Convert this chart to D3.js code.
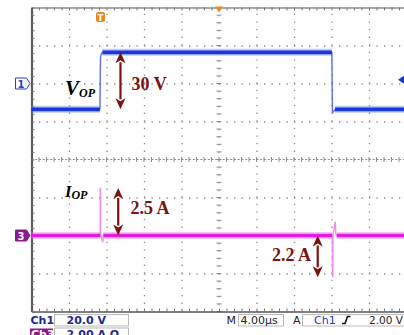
<!DOCTYPE html>
<html>
<head>
<meta charset="utf-8">
<script src="https://cdn.jsdelivr.net/npm/d3@7/dist/d3.min.js"></script>
<style>
  html, body { margin: 0; padding: 0; background: #fff; }
  svg { display: block; }
</style>
</head>
<body>
<svg id="scope" width="404" height="335"></svg>
<script>
// Channel 1: output voltage V_OP (time in µs, volts)
const ch1TimeUs = [0, 7.30, 7.36, 7.44, 7.56, 32.04, 32.10, 32.20, 32.38, 40];
const ch1Volts  = [-13.6, -13.6, 13.5, 15.6, 16.4, 16.4, -15.4, -15.0, -13.6, -13.6];

// Channel 3: output current I_OP (time in µs, amperes)
const ch3TimeUs = [0, 7.33, 7.35, 7.38, 7.60, 7.66, 32.08, 32.12, 32.16, 32.40, 32.46, 32.56, 40];
const ch3Amps   = [0, 0, 2.5, 0, -0.35, 0, 0, -2.2, 0, 0.72, 0.05, 0, 0];

// Measured swings written on the arrows
const vopSwingV = 30;
const iopRiseA = 2.5;
const iopFallA = 2.2;

// Settings read-out
const ch1Setting = ["Ch1", "20.0 V"];
const ch3Setting = ["Ch3", "2.00 A \u03A9"];
const timebase = ["M", "4.00\u00B5s"];
const triggerInfo = ["A", "Ch1", "2.00 V"];
const triggerLevelV = 2.0;

const svg = d3.select("#scope");
const L = 31.5, R = 406.5, T = 7.5, B = 311.5;

// 10 horizontal divisions of 4 µs, 8 vertical divisions
const x = d3.scaleLinear().domain([0, 40]).range([L, R]);
const yDiv = d3.scaleLinear().domain([-4, 4]).range([B, T]);
// Ch1 at 20 V/div, ground 2 div above centre; Ch3 at 2 A/div, ground 2 div below
const y1 = d3.scaleLinear().domain([-120, 40]).range([B, T]);
const y3 = d3.scaleLinear().domain([-4, 12]).range([B, T]);

const gridColor = "#8c8c8c";

// Dotted graticule
const grid = svg.append("g");
grid.append("g")
  .attr("transform", `translate(0,${B})`)
  .call(d3.axisBottom(x).tickValues(d3.range(4, 40, 4).filter(v => v !== 20))
        .tickSizeInner(-(B - T)).tickSizeOuter(0).tickFormat(""))
  .call(g => g.select(".domain").remove())
  .call(g => g.selectAll("line").attr("stroke", gridColor).attr("stroke-width", 1.3)
        .attr("stroke-dasharray", "1.3 6.3"));
grid.append("g")
  .attr("transform", `translate(${L},0)`)
  .call(d3.axisLeft(yDiv).tickValues([-3, -2, -1, 1, 2, 3])
        .tickSizeInner(-(R - L)).tickSizeOuter(0).tickFormat(""))
  .call(g => g.select(".domain").remove())
  .call(g => g.selectAll("line").attr("stroke", gridColor).attr("stroke-width", 1.3)
        .attr("stroke-dasharray", "1.3 6.2"));

// Centre crosshair with minor ticks
const minorX = d3.range(0, 40.01, 0.8);
const minorY = d3.range(-4, 4.01, 0.2);
grid.append("line").attr("x1", L).attr("x2", R).attr("y1", yDiv(0)).attr("y2", yDiv(0))
  .attr("stroke", gridColor).attr("stroke-width", 1).attr("stroke-dasharray", "2 1.75");
grid.append("line").attr("x1", x(20)).attr("x2", x(20)).attr("y1", T).attr("y2", B)
  .attr("stroke", gridColor).attr("stroke-width", 1).attr("stroke-dasharray", "1.3 6.3");
grid.append("g").selectAll("line").data(minorX).join("line")
  .attr("x1", d => x(d)).attr("x2", d => x(d))
  .attr("y1", yDiv(0) - 2.5).attr("y2", yDiv(0) + 2.5)
  .attr("stroke", gridColor).attr("stroke-width", 1);
grid.append("g").selectAll("line").data(minorY).join("line")
  .attr("x1", x(20) - 2.5).attr("x2", x(20) + 2.5)
  .attr("y1", d => yDiv(d)).attr("y2", d => yDiv(d))
  .attr("stroke", gridColor).attr("stroke-width", 1);

// Frame with edge ticks
const frame = svg.append("g");
frame.append("g").attr("transform", `translate(0,${T})`)
  .call(d3.axisBottom(x).tickValues(minorX).tickSize(3).tickSizeOuter(0).tickFormat(""))
  .call(g => g.selectAll("line").attr("stroke", "#777"))
  .call(g => g.select(".domain").attr("stroke", "#555").attr("stroke-width", 1.2));
frame.append("g").attr("transform", `translate(0,${B})`)
  .call(d3.axisTop(x).tickValues(minorX).tickSize(3).tickSizeOuter(0).tickFormat(""))
  .call(g => g.selectAll("line").attr("stroke", "#777"))
  .call(g => g.select(".domain").attr("stroke", "#555").attr("stroke-width", 1.4));
frame.append("g").attr("transform", `translate(${L},0)`)
  .call(d3.axisRight(yDiv).tickValues(minorY).tickSize(3).tickSizeOuter(0).tickFormat(""))
  .call(g => g.selectAll("line").attr("stroke", "#777"))
  .call(g => g.select(".domain").attr("stroke", "#5a5a5a").attr("stroke-width", 2.2));

// Traces: flat runs drawn as a thick noisy band, fast edges as thin faint strokes
function drawTrace(times, values, yScale, c) {
  const pts = times.map((t, i) => [x(t), yScale(values[i])]);
  const line = d3.line();
  const g = svg.append("g");
  const steep = [], flat = [];
  for (let i = 0; i < pts.length - 1; i++) {
    (values[i] === values[i + 1] ? flat : steep).push([pts[i], pts[i + 1]]);
  }
  g.selectAll(".edge").data(steep).join("path").attr("class", "edge")
    .attr("d", line).attr("fill", "none")
    .attr("stroke", c.edge).attr("stroke-width", 1.4);
  g.selectAll(".halo").data(flat).join("path").attr("class", "halo")
    .attr("d", line).attr("fill", "none")
    .attr("stroke", c.halo).attr("stroke-width", 7).attr("opacity", 0.45);
  g.selectAll(".core").data(flat).join("path").attr("class", "core")
    .attr("d", line).attr("fill", "none")
    .attr("stroke", c.core).attr("stroke-width", 3.6);
}
drawTrace(ch1TimeUs, ch1Volts, y1, { core: "#1c35d6", halo: "#6f86ee", edge: "#5b6fe6" });
drawTrace(ch3TimeUs, ch3Amps, y3, { core: "#e21de0", halo: "#f07cf0", edge: "#f08cf0" });

// Double-headed measurement arrows
const arrowColor = "#7b1212";
function arrow(xp, ya, yb) {
  const g = svg.append("g").attr("fill", arrowColor);
  const top = Math.min(ya, yb), bot = Math.max(ya, yb);
  const hl = 11, hw = 5;
  g.append("line").attr("x1", xp).attr("x2", xp).attr("y1", top + hl - 1).attr("y2", bot - hl + 1)
    .attr("stroke", arrowColor).attr("stroke-width", 2.2);
  g.append("path").attr("d", `M${xp},${top}L${xp - hw},${top + hl}L${xp},${top + hl - 3}L${xp + hw},${top + hl}Z`);
  g.append("path").attr("d", `M${xp},${bot}L${xp - hw},${bot - hl}L${xp},${bot - hl + 3}L${xp + hw},${bot - hl}Z`);
}
const vHigh = d3.max(ch1Volts);
arrow(x(9.49), y1(vHigh), y1(vHigh - vopSwingV));
arrow(x(9.25), y3(0), y3(iopRiseA));
arrow(x(30.53), y3(0), y3(-iopFallA));

const noteFont = "'Liberation Serif', 'Times New Roman', serif";
function note(px, py, txt) {
  svg.append("text").attr("x", px).attr("y", py).text(txt)
    .attr("font-family", noteFont).attr("font-weight", "bold").attr("font-size", 18)
    .attr("fill", arrowColor);
}
note(131.5, 90, `${vopSwingV} V`);
note(130.5, 214, `${iopRiseA} A`);
note(272, 260.5, `${iopFallA} A`);

// Signal names
function signalName(px, py, main, sub, size) {
  const t = svg.append("text").attr("x", px).attr("y", py)
    .attr("font-family", noteFont).attr("font-weight", "bold").attr("font-style", "italic")
    .attr("fill", "#000");
  t.append("tspan").attr("font-size", size).text(main);
  t.append("tspan").attr("font-size", 12).attr("dy", 2).text(sub);
}
signalName(65, 94.5, "V", "OP", 21);
signalName(65, 197, "I", "OP", 16.5);

// Channel ground markers
function groundMarker(py, label, filled, color) {
  const g = svg.append("g");
  g.append("path")
    .attr("d", `M15.5,${py - 5.5}H26.5L30,${py}L26.5,${py + 5.5}H15.5Z`)
    .attr("fill", filled ? color : "#fff").attr("stroke", color).attr("stroke-width", 1);
  g.append("text").attr("x", 21).attr("y", py + 4).attr("text-anchor", "middle")
    .attr("font-family", "'DejaVu Sans', sans-serif").attr("font-size", 10).attr("font-weight", "bold")
    .attr("fill", filled ? "#fff" : color).text(label);
}
groundMarker(y1(0), "1", false, "#2a40c8");
groundMarker(y3(0), "3", true, "#8c1a8c");

// Trigger position and level markers
const trigT = 7.36;
svg.append("rect").attr("x", x(trigT) - 4.5).attr("y", 12).attr("width", 9).attr("height", 10)
  .attr("rx", 2).attr("fill", "#f2861e");
svg.append("text").attr("x", x(trigT)).attr("y", 20.5).attr("text-anchor", "middle")
  .attr("font-family", "'DejaVu Sans', sans-serif").attr("font-size", 8.5).attr("font-weight", "bold")
  .attr("fill", "#fff").text("T");
svg.append("path").attr("d", `M${x(20) - 4},${T - 1}H${x(20) + 4}L${x(20)},${T + 5}Z`).attr("fill", "#f2861e");
svg.append("path").attr("d", `M398,${y1(triggerLevelV)}L404,${y1(triggerLevelV) - 4}V${y1(triggerLevelV) + 4}Z`)
  .attr("fill", "#1c35d6");

// Settings read-out below the graticule
const ui = "'DejaVu Sans', 'Liberation Sans', sans-serif";
const navy = "#1d2a8e";
function box(bx, by, w, h) {
  svg.append("rect").attr("x", bx).attr("y", by).attr("width", w).attr("height", h)
    .attr("fill", "#fff").attr("stroke", "#b9b9b9").attr("stroke-width", 1);
}
function txt(tx, ty, s, color, weight, size) {
  svg.append("text").attr("x", tx).attr("y", ty).text(s)
    .attr("font-family", ui).attr("font-size", size || 11).attr("font-weight", weight || "bold")
    .attr("fill", color);
}
box(54.5, 314.5, 74, 11.5);
txt(30.5, 324, ch1Setting[0], navy);
txt(66.5, 324, ch1Setting[1], navy);

svg.append("rect").attr("x", 30).attr("y", 328.5).attr("width", 23).attr("height", 12).attr("fill", "#8c1a8c");
box(54.5, 328, 74, 11.5);
txt(31, 337.5, ch3Setting[0], "#fff");
txt(66.5, 337.5, ch3Setting[1], navy);

txt(226.5, 324, timebase[0], "#222", "normal");
box(238.5, 314.5, 45, 11.5);
txt(240.5, 324, timebase[1], "#222", "normal");

txt(293, 324, triggerInfo[0], "#222", "normal");
box(302.5, 314.5, 110, 11.5);
txt(314, 324, triggerInfo[1], "#2236c4", "normal");
// rising-edge slope symbol
svg.append("path").attr("d", "M342,323.5H345L347.5,316.5H350.5").attr("fill", "none")
  .attr("stroke", "#111").attr("stroke-width", 1.6);
txt(369, 324, triggerInfo[2], "#222", "normal", 10.5);
</script>
</body>
</html>
